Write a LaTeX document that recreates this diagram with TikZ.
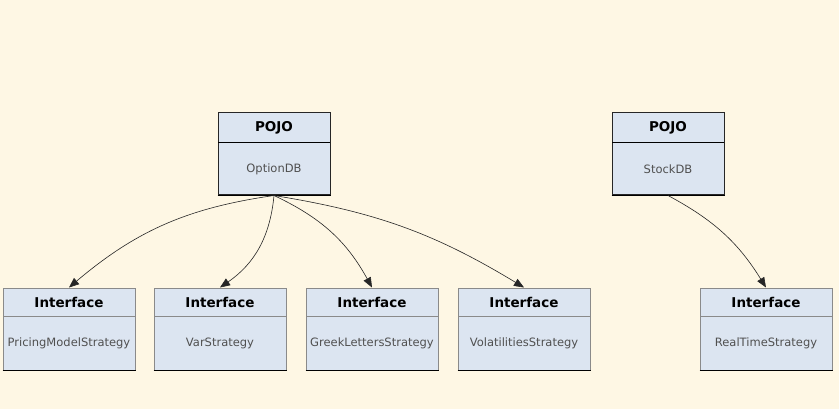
\documentclass[tikz,border=0pt]{standalone}
\usepackage{fontspec}
\setmainfont{DejaVu Sans}
\usetikzlibrary{arrows.meta,fit}
\definecolor{bgc}{RGB}{254,247,228}
\definecolor{boxc}{RGB}{220,229,241}
\definecolor{txtc}{RGB}{80,80,80}
\definecolor{edgec}{RGB}{138,138,138}
\tikzset{
  pojobox/.style={draw=black!85,line width=1pt,fill=boxc,inner sep=0pt},
  ifacebox/.style={draw=edgec,line width=1pt,fill=boxc,inner sep=0pt},
  pojodiv/.style={draw=black,line width=1pt},
  ifacediv/.style={draw=edgec,line width=1pt},
  hdr/.style={font=\fontsize{13.5}{15}\selectfont\bfseries,text=black,inner sep=0pt},
  bodytxt/.style={font=\fontsize{11.5}{13}\selectfont,text=txtc,inner sep=0pt},
  conn/.style={draw=black!85,line width=0.6pt,-{Triangle[length=10pt,width=8pt]}}
}
% name, left, top, right, bottom, divider, header, body, kind
\newcommand{\umlbox}[9]{%
  \node[#9box,fit={(#2,#3) (#4,#5)}] (#1) {};
  \draw[#9div] (#2,#6) -- (#4,#6);
  \draw[line width=1pt,black] (#1.south west) -- (#1.south east);
  \node[hdr] (#1-h) at ({(#2+#4)/2},{(#3+#6)/2}) {#7};
  \node[bodytxt] (#1-b) at ({(#2+#4)/2},{(#6+#5)/2}) {#8};
}
\begin{document}
\begin{tikzpicture}[x=1pt,y=-1pt]
\fill[bgc] (0,0) rectangle (839,409);
\useasboundingbox (0,0) rectangle (839,409);
\umlbox{opt}{218}{113}{330}{195}{143}{POJO}{OptionDB}{pojo}
\umlbox{stk}{612}{113}{724}{195}{143}{POJO}{StockDB}{pojo}
\umlbox{pm}{3}{288}{135}{370}{316}{Interface}{PricingModelStrategy}{iface}
\umlbox{var}{154}{288}{286}{370}{316}{Interface}{VarStrategy}{iface}
\umlbox{grk}{306}{288}{438}{370}{316}{Interface}{GreekLettersStrategy}{iface}
\umlbox{vol}{458}{288}{590}{370}{316}{Interface}{VolatilitiesStrategy}{iface}
\umlbox{rt}{700}{288}{832}{370}{316}{Interface}{RealTimeStrategy}{iface}
\draw[conn] (opt.south) to[bend right=16] (pm.north);
\draw[conn] (opt.south) to[bend left=25] (var.north);
\draw[conn] (opt.south) to[bend left=18] (grk.north);
\draw[conn] (opt.south) to[bend left=11] (vol.north);
\draw[conn] (stk.south) to[bend left=15] (rt.north);
\end{tikzpicture}
\end{document}
